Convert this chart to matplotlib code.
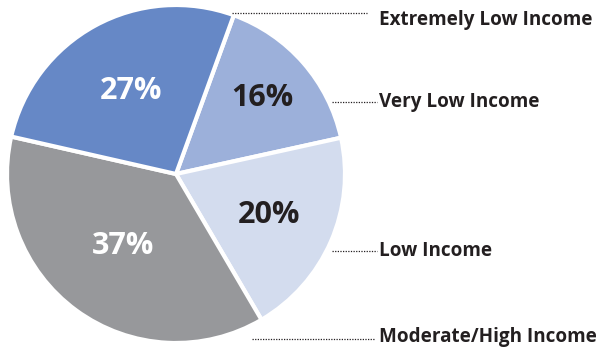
import matplotlib
matplotlib.use('Agg')
import matplotlib.pyplot as plt
import numpy as np

# Income category shares (percent)
categories = ['Very Low Income', 'Low Income', 'Moderate/High Income', 'Extremely Low Income']
shares = [16, 20, 37, 27]
colors = ['#9cb0da', '#d3dcee', '#97989b', '#6688c6']
pct_colors = ['#231f20', '#231f20', 'white', 'white']
pct_dist = [0.68, 0.60, 0.53, 0.56]

W, H = 600, 352
fig = plt.figure(figsize=(W / 100, H / 100), dpi=100)
ax = fig.add_axes([0, 0, 1, 1])

cx, cy, r = 176, H - 174, 169
wedges, _ = ax.pie(shares, colors=colors, startangle=70, counterclock=False,
                   center=(cx, cy), radius=r,
                   wedgeprops=dict(edgecolor='white', linewidth=3))

for w, val, col, d in zip(wedges, shares, pct_colors, pct_dist):
    ang = np.deg2rad((w.theta1 + w.theta2) / 2)
    ax.text(cx + d * r * np.cos(ang), cy + d * r * np.sin(ang), f'{val}%',
            ha='center', va='center', fontsize=22, fontweight='bold',
            color=col, family='Open Sans')

# labels with dotted leaders: (name, leader y, x start, x end, text baseline y)
leaders = [('Extremely Low Income', 13, 232, 367, 25),
           ('Very Low Income', 102, 332, 377, 107),
           ('Low Income', 251, 332, 377, 256),
           ('Moderate/High Income', 339, 252, 374, 342)]
for name, y, x0, x1, yb in leaders:
    ax.plot([x0, x1], [H - y, H - y], color='#231f20', linestyle=(0, (1, 1.1)), linewidth=0.9)
    ax.text(379, H - yb, name, ha='left', va='baseline', fontsize=13.6,
            fontweight='bold', color='#231f20', family='Open Sans')

ax.set_xlim(0, W)
ax.set_ylim(0, H)
ax.set_aspect('auto')
ax.axis('off')
fig.savefig('out.png', dpi=100)
